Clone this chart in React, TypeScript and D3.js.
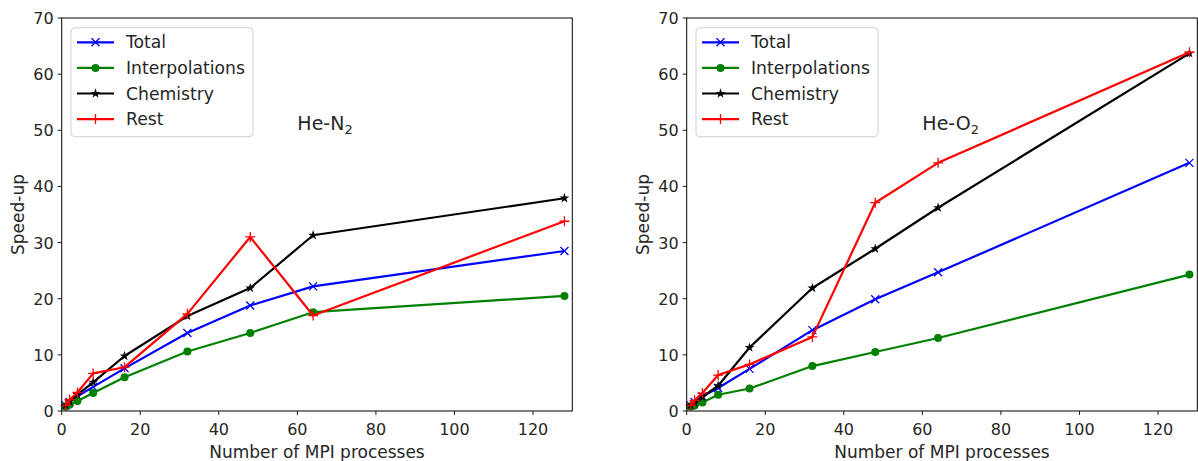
import React from "react";
import * as d3 from "d3";

const procs = [1, 2, 4, 8, 16, 32, 48, 64, 128];
const n2Total = [1, 1.6, 2.6, 4.3, 7.6, 13.9, 18.8, 22.2, 28.5];
const n2Interp = [0.8, 1.1, 1.8, 3.2, 6.0, 10.6, 13.9, 17.6, 20.5];
const n2Chem = [1, 1.7, 2.9, 5.1, 9.8, 16.9, 21.9, 31.3, 37.9];
const n2Rest = [1, 2.0, 3.3, 6.7, 7.8, 17.3, 31.0, 17.0, 33.8];
const o2Total = [1, 1.6, 2.6, 4.1, 7.5, 14.4, 19.9, 24.7, 44.2];
const o2Interp = [0.8, 1.0, 1.5, 2.9, 4.0, 8.0, 10.5, 13.0, 24.3];
const o2Chem = [1, 1.4, 2.5, 4.5, 11.3, 21.9, 28.9, 36.2, 63.7];
const o2Rest = [1, 1.9, 3.2, 6.4, 8.3, 13.2, 37.1, 44.2, 63.9];

const seriesNames = ["Total", "Interpolations", "Chemistry", "Rest"];
const seriesColors = ["#0000ff", "#008000", "#000000", "#ff0000"];
const seriesMarkers = ["x", "o", "*", "+"];
const xTicks = [0, 20, 40, 60, 80, 100, 120];
const yTicks = [0, 10, 20, 30, 40, 50, 60, 70];
const xDomain = [0, 130];
const yDomain = [0, 70];

const FONT = "'DejaVu Sans', sans-serif";

function Marker({ kind, x, y, color }: { kind: string; x: number; y: number; color: string }) {
  if (kind === "o") return <circle cx={x} cy={y} r={4} fill={color} />;
  if (kind === "x") {
    const s = 4;
    return (
      <path d={`M${x - s},${y - s}L${x + s},${y + s}M${x - s},${y + s}L${x + s},${y - s}`} stroke={color} strokeWidth={1.3} fill="none" />
    );
  }
  if (kind === "+") {
    const s = 5;
    return <path d={`M${x - s},${y}L${x + s},${y}M${x},${y - s}L${x},${y + s}`} stroke={color} strokeWidth={1.3} fill="none" />;
  }
  const star = d3.symbol().type(d3.symbolStar).size(30)();
  return <path d={star || ""} transform={`translate(${x},${y})`} fill={color} />;
}

function Panel({
  left,
  data,
  title,
  sub,
}: {
  left: number;
  data: number[][];
  title: string;
  sub: string;
}) {
  const top = 18;
  const bottom = 411;
  const width = 510.6;
  const x = d3.scaleLinear().domain(xDomain).range([left, left + width]);
  const y = d3.scaleLinear().domain(yDomain).range([bottom, top]);
  const line = d3
    .line<[number, number]>()
    .x((d) => x(d[0]))
    .y((d) => y(d[1]));
  const legX = left + 9.3;
  const legY = 27.7;
  return (
    <g fontFamily={FONT}>
      {data.map((vals, i) => {
        const pts = procs.map((p, j) => [p, vals[j]] as [number, number]);
        return (
          <g key={i}>
            <path d={line(pts) || ""} fill="none" stroke={seriesColors[i]} strokeWidth={2.2} strokeLinejoin="round" />
            {pts.map((p, j) => (
              <Marker key={j} kind={seriesMarkers[i]} x={x(p[0])} y={y(p[1])} color={seriesColors[i]} />
            ))}
          </g>
        );
      })}
      <rect x={left} y={top} width={width} height={bottom - top} fill="none" stroke="#000" strokeWidth={1} />
      {xTicks.map((t) => (
        <g key={t}>
          <line x1={x(t)} x2={x(t)} y1={bottom} y2={bottom + 4} stroke="#000" strokeWidth={0.9} />
          <text x={x(t)} y={bottom + 24} textAnchor="middle" fontSize={16} fill="#262626">
            {t}
          </text>
        </g>
      ))}
      {yTicks.map((t) => (
        <g key={t}>
          <line x1={left - 4} x2={left} y1={y(t)} y2={y(t)} stroke="#000" strokeWidth={0.9} />
          <text x={left - 8} y={y(t) + 6} textAnchor="end" fontSize={16} fill="#262626">
            {t}
          </text>
        </g>
      ))}
      <text x={left + width / 2} y={458} textAnchor="middle" fontSize={17} fill="#262626">
        Number of MPI processes
      </text>
      <text
        transform={`translate(${left - 38},${(top + bottom) / 2}) rotate(-90)`}
        textAnchor="middle"
        fontSize={17}
        fill="#262626"
      >
        Speed-up
      </text>
      <text x={x(60)} y={y(50)} fontSize={19} fill="#262626">
        {title}
        <tspan fontSize={13} dy={4}>
          {sub}
        </tspan>
      </text>
      <rect x={legX} y={legY} width={182} height={109} rx={4} fill="#fff" fillOpacity={0.8} stroke="#d0d0d0" strokeWidth={1} />
      {seriesNames.map((n, i) => {
        const ly = 42.3 + i * 25.6;
        return (
          <g key={n}>
            <line x1={legX + 6} x2={legX + 43} y1={ly} y2={ly} stroke={seriesColors[i]} strokeWidth={2.2} />
            <Marker kind={seriesMarkers[i]} x={legX + 24.5} y={ly} color={seriesColors[i]} />
            <text x={legX + 55} y={ly + 6} fontSize={17.2} fill="#262626">
              {n}
            </text>
          </g>
        );
      })}
    </g>
  );
}

export default function App() {
  return (
    <svg width={1198} height={461} style={{ position: "absolute", left: 0, top: 0 }}>
      <rect width={1198} height={461} fill="#fff" />
      <Panel left={61.7} data={[n2Total, n2Interp, n2Chem, n2Rest]} title="He-N" sub="2" />
      <Panel left={686.7} data={[o2Total, o2Interp, o2Chem, o2Rest]} title="He-O" sub="2" />
    </svg>
  );
}
